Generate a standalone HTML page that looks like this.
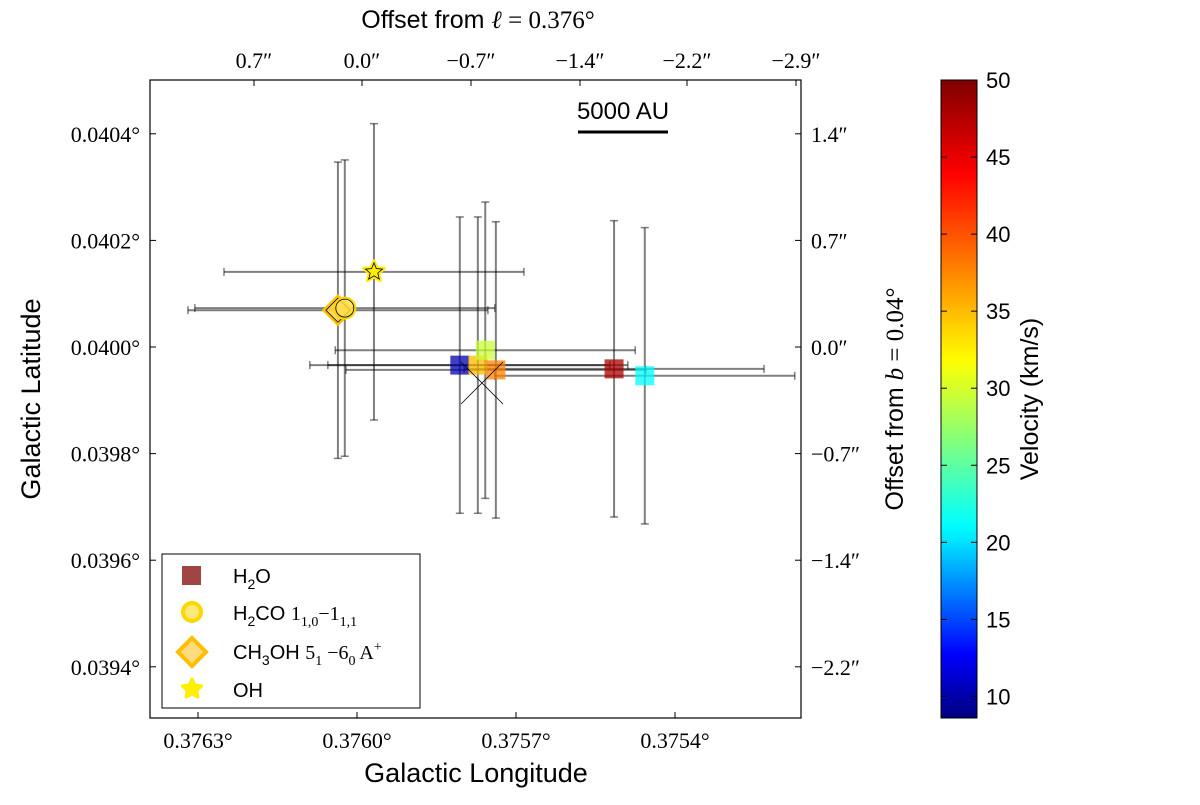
<!DOCTYPE html>
<html><head><meta charset="utf-8">
<style>
body{margin:0;background:#fff;}
svg text{font-family:"Liberation Serif",serif;}
.sans{font-family:"Liberation Sans","DejaVu Sans",sans-serif !important;}
</style></head>
<body>
<svg id="chart" width="1200" height="800" xmlns="http://www.w3.org/2000/svg">
<defs>
<linearGradient id="jet" x1="0" y1="1" x2="0" y2="0"></linearGradient>
</defs>
<g id="plot"></g>
</svg>
<script>
const h2oLon=[0.375806,0.375772,0.375758,0.375738,0.375515,0.375457];
const h2oLat=[0.039966,0.039966,0.039994,0.039957,0.039959,0.039946];
const h2oVel=[10,35,29.5,37.8,48,21];
const h2oLonErr=[0.000283,0.000283,0.000283,0.000283,0.000283,0.000283];
const h2oLatErr=[0.000278,0.000278,0.000278,0.000278,0.000278,0.000278];
const h2coPt=[0.376023,0.040073];
const ch3ohPt=[0.376036,0.040069];
const ohPt=[0.375968,0.040141];
const xTicks=[0.3763,0.3760,0.3757,0.3754];
const xTickLabels=["0.3763°","0.3760°","0.3757°","0.3754°"];
const yTicks=[0.0404,0.0402,0.0400,0.0398,0.0396,0.0394];
const yTickLabels=["0.0404°","0.0402°","0.0400°","0.0398°","0.0396°","0.0394°"];
const topTickLabels=["0.7″","0.0″","−0.7″","−1.4″","−2.2″","−2.9″"];
const topTickPx=[254,362,471,580,687,796];
const rightTickLabels=["1.4″","0.7″","0.0″","−0.7″","−1.4″","−2.2″"];
const cbTicks=[10,15,20,25,30,35,40,45,50];
const vmin=8.6,vmax=50;

const L=150,R=801,T=80,B=718;
function X(l){return 357+(0.3760-l)*530000;}
function Y(b){return 347-(b-0.0400)*533000;}
const NS="http://www.w3.org/2000/svg";
const g=document.getElementById('plot');
function el(tag,attrs,parent){const e=document.createElementNS(NS,tag);for(const k in attrs)e.setAttribute(k,attrs[k]);(parent||g).appendChild(e);return e;}
function jetT(t){t=Math.max(0,Math.min(1,t));
 const f=(x)=>Math.max(0,Math.min(1,1.5-Math.abs(x)));
 const r=f(4*t-3),gg=f(4*t-2),b=f(4*t-1);
 return `rgb(${Math.round(r*255)},${Math.round(gg*255)},${Math.round(b*255)})`;}
const normV=[8.6,20.5,31.75,50], normT=[0,0.36,0.625,1];
function norm(v){for(let i=1;i<normV.length;i++){if(v<=normV[i]||i===normV.length-1){return normT[i-1]+(v-normV[i-1])/(normV[i]-normV[i-1])*(normT[i]-normT[i-1]);}}}
function jet(v){return jetT(norm(v));}
{const grad=document.getElementById('jet');
 for(let k=0;k<=80;k++){const v=vmin+(vmax-vmin)*k/80;el('stop',{offset:k/80,'stop-color':jet(v)},grad);}}

function errbar(cx,cy,ex,ey,name){
 const gr=el('g',{});
 
 
 const x0=X(cx-ex),x1=X(cx+ex),y0=Y(cy+ey),y1=Y(cy-ey),px=X(cx),py=Y(cy);
 el('line',{x1:x0,y1:py,x2:x1,y2:py,stroke:'#000','stroke-opacity':0.5,'stroke-width':2},gr);
 el('line',{x1:px,y1:y0,x2:px,y2:y1,stroke:'#000','stroke-opacity':0.5,'stroke-width':2},gr);
 [[x0,py],[x1,py]].forEach(c=>el('line',{x1:c[0],y1:c[1]-4,x2:c[0],y2:c[1]+4,stroke:'#000','stroke-opacity':0.5,'stroke-width':1.5},gr));
 [[px,y0],[px,y1]].forEach(c=>el('line',{x1:c[0]-4,y1:c[1],x2:c[0]+4,y2:c[1],stroke:'#000','stroke-opacity':0.5,'stroke-width':1.5},gr));
}
const frame=el('rect',{x:L,y:T,width:R-L,height:B-T,fill:'none',stroke:'#000','stroke-width':1.2});



for(let i=0;i<h2oLon.length;i++)errbar(h2oLon[i],h2oLat[i],h2oLonErr[i],h2oLatErr[i],'h2o-errorbar-'+i);
errbar(h2coPt[0],h2coPt[1],0.000283,0.000278,'h2co-errorbar');
errbar(ch3ohPt[0],ch3ohPt[1],0.000283,0.000278,'ch3oh-errorbar');
errbar(ohPt[0],ohPt[1],0.000283,0.000278,'oh-errorbar');

for(let i=0;i<h2oLon.length;i++){
 const s=el('rect',{x:X(h2oLon[i])-9.5,y:Y(h2oLat[i])-9.5,width:19,height:19,fill:jet(h2oVel[i]),'fill-opacity':0.75});
 
 
}
const cx=482,cy=383;
const cr=el('g',{});


el('line',{x1:cx-21,y1:cy-21,x2:cx+21,y2:cy+21,stroke:'#000','stroke-width':0.8},cr);
el('line',{x1:cx-21,y1:cy+21,x2:cx+21,y2:cy-21,stroke:'#000','stroke-width':0.8},cr);

{const x=X(ch3ohPt[0]),y=Y(ch3ohPt[1]);
 const d=el('polygon',{points:`${x},${y-14} ${x+14},${y} ${x},${y+14} ${x-14},${y}`,fill:'#ffd24d','fill-opacity':0.9,stroke:'#ffc000','stroke-width':3});
 
 
 el('polygon',{points:`${x},${y-12} ${x+12},${y} ${x},${y+12} ${x-12},${y}`,fill:'none',stroke:'#000','stroke-width':0.8});}
{const x=X(h2coPt[0]),y=Y(h2coPt[1]);
 const c=el('circle',{cx:x,cy:y,r:10,fill:'#ffe14d','fill-opacity':0.8,stroke:'#ffd700','stroke-width':3});
 
 
 el('circle',{cx:x,cy:y,r:9,fill:'none',stroke:'#000','stroke-width':0.8});}
function starPts(x,y,ro,ri){let p=[];for(let k=0;k<10;k++){const a=-Math.PI/2+k*Math.PI/5,r=k%2?ri:ro;p.push((x+r*Math.cos(a)).toFixed(1)+','+(y+r*Math.sin(a)).toFixed(1));}return p.join(' ');}
{const x=X(ohPt[0]),y=Y(ohPt[1]);
 const s=el('polygon',{points:starPts(x,y,11,5),fill:'#ffee00',stroke:'#ffee00','stroke-width':3,'stroke-linejoin':'round'});
 
 
 el('polygon',{points:starPts(x,y,9,4),fill:'none',stroke:'#000','stroke-width':0.8});}

xTicks.forEach((t,i)=>{const x=X(t);
 el('line',{x1:x,y1:B,x2:x,y2:B-6,stroke:'#000'});
 const tx=el('text',{x:x,y:B+30,'text-anchor':'middle','font-size':22});tx.textContent=xTickLabels[i];
 
 });
yTicks.forEach((t,i)=>{const y=Y(t);
 el('line',{x1:L,y1:y,x2:L+6,y2:y,stroke:'#000'});
 el('line',{x1:R,y1:y,x2:R-6,y2:y,stroke:'#000'});
 const tx=el('text',{x:L-10,y:y+8,'text-anchor':'end','font-size':22});tx.textContent=yTickLabels[i];
 
 
 const tr=el('text',{x:R+10,y:y+8,'text-anchor':'start','font-size':22});tr.textContent=rightTickLabels[i];
 
 });
topTickLabels.forEach((s,i)=>{const x=topTickPx[i];
 el('line',{x1:x,y1:T,x2:x,y2:T+6,stroke:'#000'});
 const tx=el('text',{x:x,y:T-12,'text-anchor':'middle','font-size':22});tx.textContent=s;
 
 });

function label(txt,attrs,name){const t=el('text',attrs);t.textContent=txt;t.setAttribute('class','sans');
 
 return t;}
label('Galactic Longitude',{x:476,y:782,'text-anchor':'middle','font-size':27},'x-axis-title');
label('Galactic Latitude',{x:0,y:0,'text-anchor':'middle','font-size':27,transform:'translate(40,399) rotate(-90)'},'y-axis-title');
const tt=label('Offset from ',{x:478,y:28,'text-anchor':'middle','font-size':25},'top-axis-title');
{const sp=document.createElementNS(NS,'tspan');sp.setAttribute('font-family','Liberation Serif, serif');sp.setAttribute('font-style','italic');sp.textContent='ℓ';tt.appendChild(sp);
 const sp2=document.createElementNS(NS,'tspan');sp2.setAttribute('font-family','Liberation Serif, serif');sp2.textContent=' = 0.376°';tt.appendChild(sp2);}
const rt=label('Offset from ',{x:0,y:0,'text-anchor':'middle','font-size':25,transform:'translate(903,399) rotate(-90)'},'right-axis-title');
{const sp=document.createElementNS(NS,'tspan');sp.setAttribute('font-family','Liberation Serif, serif');sp.setAttribute('font-style','italic');sp.textContent='b';rt.appendChild(sp);
 const sp2=document.createElementNS(NS,'tspan');sp2.setAttribute('font-family','Liberation Serif, serif');sp2.textContent=' = 0.04°';rt.appendChild(sp2);}

const sb=el('line',{x1:578,y1:132,x2:668,y2:132,stroke:'#000','stroke-width':3});


label('5000 AU',{x:623,y:119,'text-anchor':'middle','font-size':24},'scale-bar-label');

const lg=el('g',{});


el('rect',{x:162,y:554,width:258,height:154,fill:'#fff',stroke:'#000','stroke-width':1},lg);
el('rect',{x:182,y:566,width:19,height:19,fill:'#9b3a3a','fill-opacity':0.95},lg);
el('circle',{cx:192,cy:612,r:9,fill:'#ffe87a',stroke:'#ffd700','stroke-width':4},lg);
el('polygon',{points:'192,638 206,652 192,666 178,652',fill:'#ffdb80',stroke:'#ffbf00','stroke-width':4},lg);
el('polygon',{points:starPts(192,689,10,5),fill:'#ffee00',stroke:'#ffee00','stroke-width':3,'stroke-linejoin':'round'},lg);
function legText(y,parts,name){const t=el('text',{x:233,y:y,'font-size':20},lg);
 
 
 let cur=0;
 parts.forEach(p=>{const s=document.createElementNS(NS,'tspan');s.textContent=p[0];
  s.setAttribute('font-family',p[1]?'Liberation Serif, serif':'Liberation Sans, sans-serif');
  const target=p[2]===1?6:(p[2]===2?-8:0);
  if(target!==cur){s.setAttribute('dy',target-cur);cur=target;}
  if(p[2])s.setAttribute('font-size','14');
  t.appendChild(s);});}
legText(583,[['H',0,0],['2',0,1],['O',0,0]],'legend-h2o');
legText(620,[['H',0,0],['2',0,1],['CO ',0,0],['1',1,0],['1,0',1,1],['−1',1,0],['1,1',1,1]],'legend-h2co');
legText(659,[['CH',0,0],['3',0,1],['OH ',0,0],['5',1,0],['1',1,1],[' −6',1,0],['0',1,1],[' A',1,0],['+',1,2]],'legend-ch3oh');
legText(697,[['OH',0,0]],'legend-oh');

const cbT=80,cbB=718,cbX=941,cbW=36;
const cb=el('rect',{x:cbX,y:cbT,width:cbW,height:cbB-cbT,fill:'url(#jet)',stroke:'#000','stroke-width':1});


cbTicks.forEach(v=>{const y=cbB-(v-vmin)/(vmax-vmin)*(cbB-cbT);
 el('line',{x1:cbX,y1:y,x2:cbX+6,y2:y,stroke:'#000'});
 el('line',{x1:cbX+cbW,y1:y,x2:cbX+cbW-6,y2:y,stroke:'#000'});
 label(String(v),{x:cbX+cbW+9,y:y+8,'font-size':22},'colorbar-tick-label');});
label('Velocity (km/s)',{x:0,y:0,'text-anchor':'middle','font-size':25,transform:'translate(1038,399) rotate(-90)'},'colorbar-title');
</script>
</body></html>
